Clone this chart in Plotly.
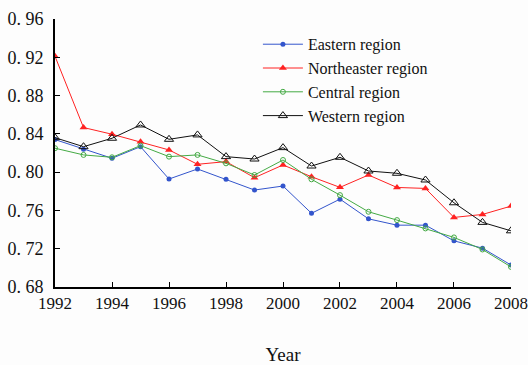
import plotly.graph_objects as go

years = list(range(1992, 2009))
eastern = [0.834, 0.824, 0.8145, 0.8266, 0.7928, 0.8033, 0.7925, 0.7813, 0.7855, 0.757,
           0.7718, 0.7512, 0.7446, 0.7446, 0.7282, 0.7206, 0.703]
northeast = [0.921, 0.8466, 0.8396, 0.8318, 0.8232, 0.8082, 0.811, 0.7942, 0.8075, 0.7952,
             0.7841, 0.797, 0.784, 0.783, 0.7527, 0.7558, 0.7645]
central = [0.825, 0.818, 0.8155, 0.8277, 0.8162, 0.818, 0.8092, 0.797, 0.8127, 0.7925,
           0.776, 0.7586, 0.7499, 0.7412, 0.7318, 0.7192, 0.701]
western = [0.836, 0.8266, 0.8354, 0.8493, 0.8343, 0.8389, 0.8162, 0.8137, 0.8256, 0.8064,
           0.8155, 0.8012, 0.7988, 0.7918, 0.768, 0.7475, 0.7387]

y_ticks = [0.68, 0.72, 0.76, 0.80, 0.84, 0.88, 0.92, 0.96]
y_tick_text = ["0.\u200568", "0.\u200572", "0.\u200576", "0.\u200580",
               "0.\u200584", "0.\u200588", "0.\u200592", "0.\u200596"]
x_ticks = [1992, 1994, 1996, 1998, 2000, 2002, 2004, 2006, 2008]

font = "Liberation Serif"

fig = go.Figure()
fig.add_trace(go.Scatter(x=years, y=eastern, name="Eastern region", mode="lines+markers",
                         line=dict(color="#3355cc", width=1),
                         marker=dict(symbol="circle", size=5, color="#3355cc")))
fig.add_trace(go.Scatter(x=years, y=northeast, name="Northeaster region", mode="lines+markers",
                         line=dict(color="#ff2222", width=1),
                         marker=dict(symbol="triangle-up", size=7, color="#ff2222")))
fig.add_trace(go.Scatter(x=years, y=central, name="Central region", mode="lines+markers",
                         line=dict(color="#44aa44", width=1),
                         marker=dict(symbol="circle-open", size=5, color="#44aa44", line=dict(width=1))))
fig.add_trace(go.Scatter(x=years, y=western, name="Western region", mode="lines+markers",
                         line=dict(color="#111111", width=1),
                         marker=dict(symbol="triangle-up-open", size=8, color="#111111", line=dict(width=1))))

fig.update_layout(
    width=528, height=365,
    margin=dict(l=55, r=17, t=19, b=78),
    paper_bgcolor="#fdfdfd", plot_bgcolor="#fdfdfd",
    font=dict(family=font, size=18, color="#111111"),
    showlegend=True,
    legend=dict(x=0.445, y=0.969, xanchor="left", yanchor="top", bgcolor="rgba(0,0,0,0)",
                font=dict(family=font, size=16), tracegroupgap=0, itemwidth=40),
    xaxis=dict(range=[1991.999, 2008.001], tickvals=x_ticks, ticks="inside", ticklen=5,
               showline=True, linecolor="black", linewidth=2, showgrid=False, zeroline=False,
               tickcolor="black", ticklabeloverflow="allow", automargin=False,
               tickfont=dict(family=font, size=17),
               title=dict(text="Year", standoff=35, font=dict(family=font, size=19))),
    yaxis=dict(range=[0.68, 0.96], tickvals=y_ticks, ticktext=y_tick_text, ticks="inside",
               ticklen=5, showline=True, linecolor="black", linewidth=2, showgrid=False,
               tickfont=dict(family=font, size=18), automargin=False,
               zeroline=False, tickcolor="black", ticklabelstandoff=6),
)

fig.write_html("out.html", config={"displayModeBar": False},
               post_script="document.body.style.margin='0';document.body.style.overflow='hidden';")
